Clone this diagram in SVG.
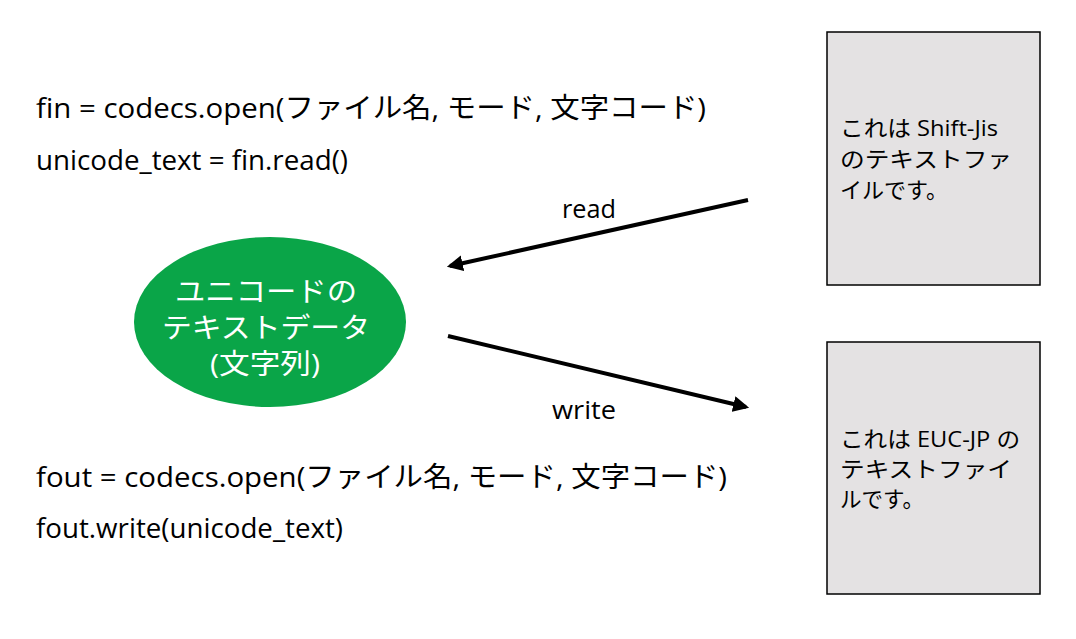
<svg xmlns="http://www.w3.org/2000/svg" width="1076" height="639" viewBox="0 0 1076 639">
<defs>
<style>
.t{font-family:"Open Sans","Noto Sans CJK JP",sans-serif;fill:#000}
.code{font-size:28px}
.lbl{font-size:26px}
.box{fill:#e4e2e3;stroke:#000;stroke-width:1.5}
.bt{font-size:22px}
.wt{font-family:"Open Sans","Noto Sans CJK JP",sans-serif;fill:#fff;font-size:28px}
.conn{stroke:#000;stroke-width:4;fill:none}
</style>
<marker id="ah" viewBox="0 0 10 10" refX="8" refY="5" markerWidth="4" markerHeight="4" orient="auto" markerUnits="strokeWidth">
<path d="M0,0 L10,5 L0,10 z" fill="#000"/>
</marker>
</defs>
<rect width="1076" height="639" fill="#fff"/>
<g id="code-read">
<text class="t code" x="36" y="118" textLength="670" lengthAdjust="spacingAndGlyphs">fin = codecs.open(ファイル名, モード, 文字コード)</text>
<text class="t code" x="36" y="170" textLength="312" lengthAdjust="spacingAndGlyphs">unicode_text = fin.read()</text>
</g>
<g id="code-write">
<text class="t code" x="36" y="487" textLength="691" lengthAdjust="spacingAndGlyphs">fout = codecs.open(ファイル名, モード, 文字コード)</text>
<text class="t code" x="36" y="538" textLength="307" lengthAdjust="spacingAndGlyphs">fout.write(unicode_text)</text>
</g>
<g id="unicode-node">
<ellipse cx="270" cy="322" rx="136" ry="85" fill="#0aa548"/>
<text class="wt" x="175" y="302" textLength="182" lengthAdjust="spacingAndGlyphs">ユニコードの</text>
<text class="wt" x="162" y="338" textLength="208" lengthAdjust="spacingAndGlyphs">テキストデータ</text>
<text class="wt" x="210" y="374" textLength="110" lengthAdjust="spacingAndGlyphs">(文字列)</text>
</g>
<g id="sjis-file">
<rect class="box" x="827" y="32" width="213" height="253"/>
<text class="t bt" x="840" y="136" textLength="158" lengthAdjust="spacingAndGlyphs">これは Shift-Jis</text>
<text class="t bt" x="840" y="167" textLength="172" lengthAdjust="spacingAndGlyphs">のテキストファ</text>
<text class="t bt" x="840" y="198" textLength="108" lengthAdjust="spacingAndGlyphs">イルです。</text>
</g>
<g id="eucjp-file">
<rect class="box" x="827" y="342" width="213" height="252"/>
<text class="t bt" x="840" y="447" textLength="180" lengthAdjust="spacingAndGlyphs">これは EUC-JP の</text>
<text class="t bt" x="840" y="477" textLength="172" lengthAdjust="spacingAndGlyphs">テキストファイ</text>
<text class="t bt" x="840" y="507" textLength="84" lengthAdjust="spacingAndGlyphs">ルです。</text>
</g>
<g id="connectors">
<line class="conn" x1="748" y1="200" x2="450" y2="266" marker-end="url(#ah)"/>
<line class="conn" x1="448" y1="336" x2="746" y2="407" marker-end="url(#ah)"/>
<text class="t lbl" x="562" y="218" textLength="54" lengthAdjust="spacingAndGlyphs">read</text>
<text class="t lbl" x="552" y="419" textLength="64" lengthAdjust="spacingAndGlyphs">write</text>
</g>
</svg>
